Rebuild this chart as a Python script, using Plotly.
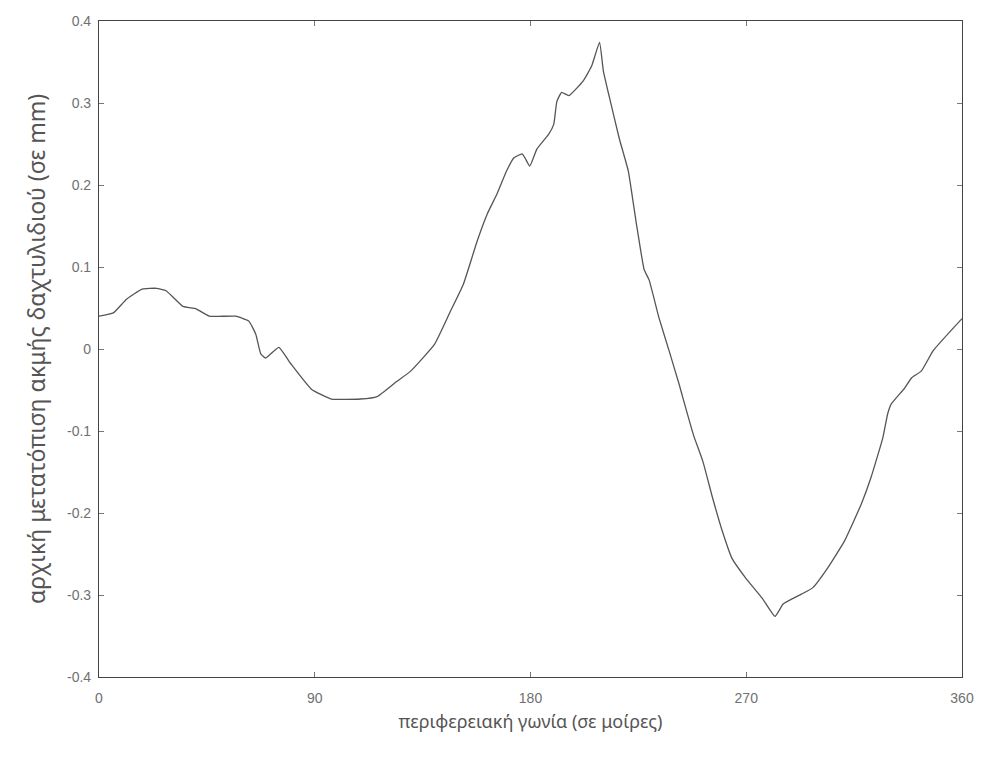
import plotly.graph_objects as go

angle_deg = [0, 6, 11.6, 18, 24, 28, 35, 40.5, 46, 57, 62.5, 65.4, 67.5, 69.5, 75, 80, 88.6, 97, 109, 116,
             124, 130, 140, 146.6, 152, 157.8, 162, 166, 170, 173, 176.5, 177.7, 179.7, 182.7, 187.6, 189.7,
             191, 193, 196, 202, 205.5, 208.8, 210.4, 213, 217, 220.8, 224, 227.4, 229.5, 233.6, 237.8,
             242, 243.6, 248, 251.9, 256, 260, 264, 269.7, 276.7, 282, 285.4, 293, 297.8, 304, 311, 318,
             322, 327, 329, 330.5, 336, 339, 343, 348, 360]
displacement_mm = [0.040, 0.044, 0.061, 0.073, 0.074, 0.071, 0.052, 0.049, 0.040, 0.040, 0.034, 0.018, -0.006,
                   -0.011, 0.002, -0.018, -0.049, -0.061, -0.061, -0.058,
                   -0.040, -0.027, 0.006, 0.046, 0.079, 0.132, 0.165, 0.189, 0.217, 0.233, 0.238, 0.233,
                   0.223, 0.244, 0.262, 0.274, 0.302, 0.313, 0.309, 0.327, 0.345, 0.374, 0.339, 0.306, 0.257,
                   0.217, 0.156, 0.097, 0.084, 0.038, -0.002,
                   -0.043, -0.060, -0.105, -0.137, -0.182, -0.222, -0.255, -0.279, -0.304, -0.326, -0.311,
                   -0.299, -0.291, -0.267, -0.234, -0.189, -0.157, -0.108, -0.079, -0.067, -0.048, -0.035,
                   -0.027, -0.002, 0.037]

x_tickvals = [0, 90, 180, 270, 360]
y_tickvals = [0.4, 0.3, 0.2, 0.1, 0, -0.1, -0.2, -0.3, -0.4]
y_ticktext = ["0.4", "0.3", "0.2", "0.1", "0", "-0.1", "-0.2", "-0.3", "-0.4"]

fig = go.Figure()
fig.add_trace(go.Scatter(x=angle_deg, y=displacement_mm, mode="lines",
                         line=dict(color="#555555", width=1.3, shape="spline", smoothing=0.4),
                         showlegend=False))

axis_common = dict(showgrid=False, zeroline=False, showline=True, linecolor="#444444", linewidth=1.2,
                   mirror="ticks", ticks="inside", ticklen=5, tickcolor="#777777",
                   tickfont=dict(family="Liberation Sans", size=14, color="#707070"))

fig.update_xaxes(range=[0, 360], tickvals=x_tickvals, ticktext=[str(v) for v in x_tickvals],
                 ticklabelstandoff=8,
                 title=dict(text="περιφερειακή γωνία (σε μοίρες)", standoff=10,
                            font=dict(family="Noto Sans", size=18, color="#555555")),
                 **axis_common)
fig.update_yaxes(range=[-0.4, 0.4], tickvals=y_tickvals, ticktext=y_ticktext,
                 ticklabelstandoff=4,
                 title=dict(text="αρχική μετατόπιση ακμής δαχτυλιδιού (σε mm)", standoff=14,
                            font=dict(family="Noto Sans", size=23, color="#555555")),
                 **axis_common)

fig.update_layout(width=986, height=760, plot_bgcolor="white", paper_bgcolor="white",
                  margin=dict(l=99, r=18, t=21, b=83))

fig.write_html("out.html")
